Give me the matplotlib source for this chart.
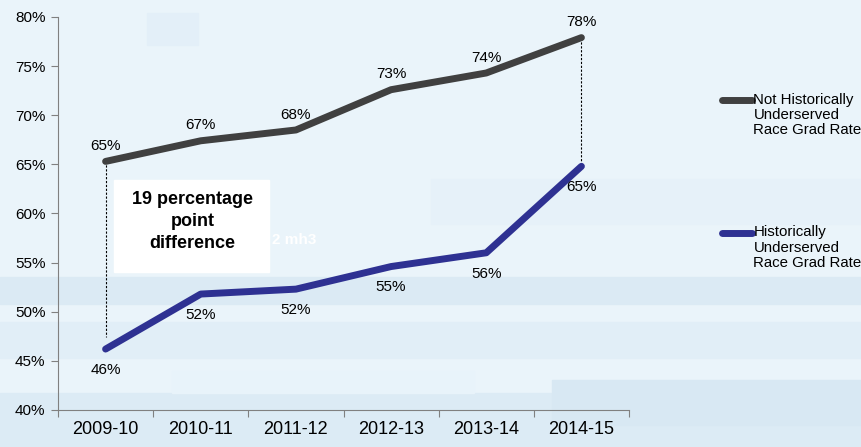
import matplotlib.pyplot as plt
from matplotlib.patches import Rectangle

plt.rcParams['font.family'] = ['Liberation Sans', 'DejaVu Sans']

years = ["2009-10", "2010-11", "2011-12", "2012-13", "2013-14", "2014-15"]
not_hist = [65.3, 67.4, 68.5, 72.6, 74.3, 77.9]
hist = [46.2, 51.8, 52.3, 54.6, 56.0, 64.8]
not_hist_labels = ["65%", "67%", "68%", "73%", "74%", "78%"]
hist_labels = ["46%", "52%", "52%", "55%", "56%", "65%"]

fig = plt.figure(figsize=(8.62, 4.47), dpi=100, facecolor='#eaf4fa')

# dekoratiivne taust (ruudud)
bands = [(0.0, 0.0, 1.0, 0.12, '#dcebf5'), (0.0, 0.2, 1.0, 0.08, '#e1eef7'),
         (0.0, 0.32, 1.0, 0.06, '#dbeaf4'), (0.2, 0.12, 0.35, 0.05, '#e8f3fa'),
         (0.64, 0.05, 0.36, 0.1, '#d8e8f3'), (0.17, 0.9, 0.06, 0.07, '#e3eff8'),
         (0.5, 0.5, 0.5, 0.1, '#e6f1f9')]
for bx, by, bw, bh, bc in bands:
    fig.patches.append(Rectangle((bx, by), bw, bh, transform=fig.transFigure,
                                 color=bc, zorder=-10))

ax = fig.add_axes([0.0673, 0.0828, 0.6624, 0.8792])
ax.set_zorder(1)
ax.set_facecolor('none')
x = [i + 0.5 for i in range(len(years))]

ax.plot(x, not_hist, color='#404040', lw=5, solid_capstyle='round', zorder=3)
ax.plot(x, hist, color='#2e3192', lw=5, solid_capstyle='round', zorder=3)

for xi, v, t in zip(x, not_hist, not_hist_labels):
    ax.annotate(t, (xi, v), xytext=(0, 6), textcoords='offset points',
                ha='center', va='bottom', fontsize=11)
for xi, v, t in zip(x, hist, hist_labels):
    ax.annotate(t, (xi, v), xytext=(0, -10), textcoords='offset points',
                ha='center', va='top', fontsize=11)

# punktiirjooned vahe näitamiseks
ax.plot([x[0], x[0]], [not_hist[0], 47.4], color='black', lw=0.8, ls=(0, (2, 1.5)), zorder=2)
ax.plot([x[-1], x[-1]], [not_hist[-1], hist[-1]], color='black', lw=0.8, ls=(0, (2, 1.5)), zorder=2)

ax.add_patch(Rectangle((0.585, 54.0), 1.63, 9.45, color='white', zorder=3.5))
ax.text(1.415, 59.2, "19 percentage\npoint\ndifference", ha='center', va='center',
        fontsize=13, fontweight='bold', linespacing=1.4, zorder=4)
ax.text(2.25, 56.9, "2 mh3", color='white', fontsize=11, fontweight='bold', zorder=2)

ax.set_xlim(0, 6)
ax.set_ylim(40, 80)
ax.set_yticks(range(40, 81, 5))
ax.set_yticklabels([f"{v}%" for v in range(40, 81, 5)], fontsize=11)
ax.set_xticks(range(0, 7))
ax.set_xticklabels([])
ax.set_xticks(x, minor=True)
ax.set_xticklabels(years, minor=True, fontsize=13)
ax.tick_params(axis='x', which='minor', length=0, pad=8)
ax.tick_params(axis='x', which='major', length=5, color='#808080')
ax.tick_params(axis='y', length=5, color='#808080', pad=4)
for s in ['top', 'right']:
    ax.spines[s].set_visible(False)
for s in ['left', 'bottom']:
    ax.spines[s].set_color('#808080')

# legend
fig.lines.append(plt.Line2D([0.8376, 0.8725], [0.776, 0.776], transform=fig.transFigure,
                            color='#404040', lw=5, solid_capstyle='round'))
fig.text(0.874, 0.793, "Not Historically\nUnderserved\nRace Grad Rate", ha='left', va='top',
         fontsize=10.8, linespacing=1.12)
fig.lines.append(plt.Line2D([0.8376, 0.8725], [0.479, 0.479], transform=fig.transFigure,
                            color='#2e3192', lw=5, solid_capstyle='round'))
fig.text(0.874, 0.496, "Historically\nUnderserved\nRace Grad Rate", ha='left', va='top',
         fontsize=10.8, linespacing=1.12)

fig.savefig('out.png', dpi=100, facecolor=fig.get_facecolor())
